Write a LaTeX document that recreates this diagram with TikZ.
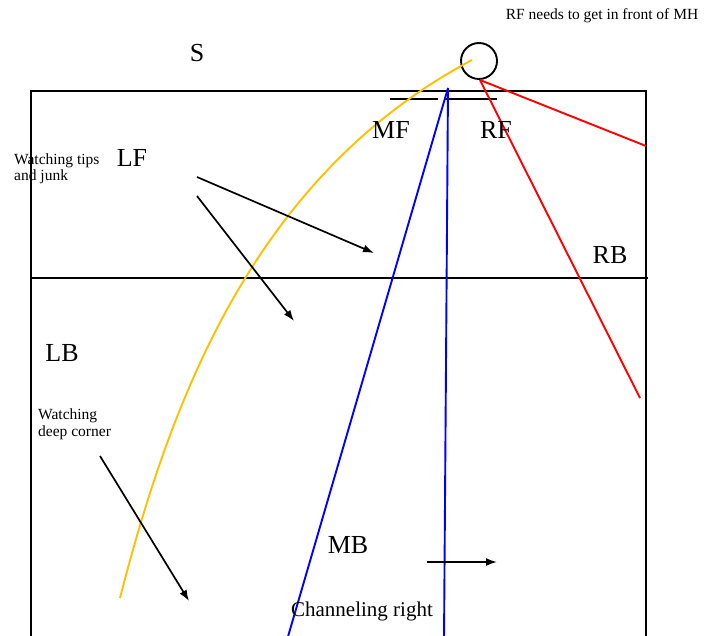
\documentclass[tikz,border=0pt]{standalone}
\usepackage{fontspec}
\setmainfont{Liberation Serif}
\usetikzlibrary{arrows.meta}
\definecolor{gold}{HTML}{FFC000}
\tikzset{
  big/.style={font=\fontsize{26}{30}\selectfont, inner sep=0pt, anchor=base},
  small/.style={font=\fontsize{15.5}{16.5}\selectfont, inner sep=0pt, anchor=base west, align=left},
  line/.style={line width=1.9pt, black},
  move/.style={line width=1.7pt, black, -{Latex[length=11pt,width=8pt]}},
  yline/.style={line width=1.9pt, gold},
  bline/.style={line width=1.9pt, blue},
  rline/.style={line width=1.9pt, red}
}
\begin{document}
\begin{tikzpicture}[x=1pt,y=-1pt]
\useasboundingbox (0,0) rectangle (719,636);
% court
\coordinate (tl) at (31,91);
\coordinate (tr) at (646,91);
\coordinate (bl) at (31,640);
\coordinate (br) at (646,640);
\coordinate (ml) at (31,278);
\coordinate (mr) at (648,278);
\draw[line] (bl) -- (tl) -- (tr) -- (br);
\draw[line] (ml) -- (mr);
% net marks
\coordinate (n1a) at (390,99); \coordinate (n1b) at (438,99);
\coordinate (n2a) at (445,99); \coordinate (n2b) at (497,99);
\draw[line] (n1a) -- (n1b);
\draw[line width=1.5pt] (n2a) -- (n2b);
% hitter circle
\node[draw, line width=1.9pt, circle, minimum size=36pt, inner sep=0pt] (mh) at (479,61) {};
% yellow set path
\coordinate (ys) at (472,60);
\coordinate (ye) at (120,598);
\draw[yline] (ys) .. controls (252,177) and (170,404) .. (ye);
% blue lines
\coordinate (apex) at (448,88);
\coordinate (b1) at (287,640);
\coordinate (b2) at (444,640);
\draw[bline] (apex) -- (b1);
\draw[bline] (apex) -- (b2);
% red lines
\coordinate (rs) at (480,80);
\coordinate (r1) at (646,146);
\coordinate (r2) at (640,398);
\draw[rline] (rs) -- (r1);
\draw[rline] (rs) -- (r2);
% movement arrows
\coordinate (a1s) at (197,177); \coordinate (a1e) at (374,253);
\coordinate (a2s) at (197,196); \coordinate (a2e) at (294,321);
\coordinate (a3s) at (100,456); \coordinate (a3e) at (189,601);
\coordinate (a4s) at (427,562); \coordinate (a4e) at (497,562);
\draw[move] (a1s) -- (a1e);
\draw[move] (a2s) -- (a2e);
\draw[move] (a3s) -- (a3e);
\draw[move] (a4s) -- (a4e);
% labels
\node[big] (S) at (197,62) {S};
\node[big] (MF) at (391,139) {MF};
\node[big] (RF) at (496,139) {RF};
\node[big] (LF) at (132,167) {LF};
\node[big] (RB) at (610,263) {RB};
\node[big] (LB) at (62,361) {LB};
\node[big] (MB) at (348,553) {MB};
\node[font=\fontsize{21}{24}\selectfont, inner sep=0pt, anchor=base] (CR) at (362,616) {Channeling right};
\node[font=\fontsize{15.5}{18}\selectfont, inner sep=0pt, anchor=base] (note) at (602,20) {RF needs to get in front of MH};
\node[small] (wt) at (14,181) {Watching tips\\and junk};
\node[small] (wd) at (38,436) {Watching\\deep corner};
\end{tikzpicture}
\end{document}
